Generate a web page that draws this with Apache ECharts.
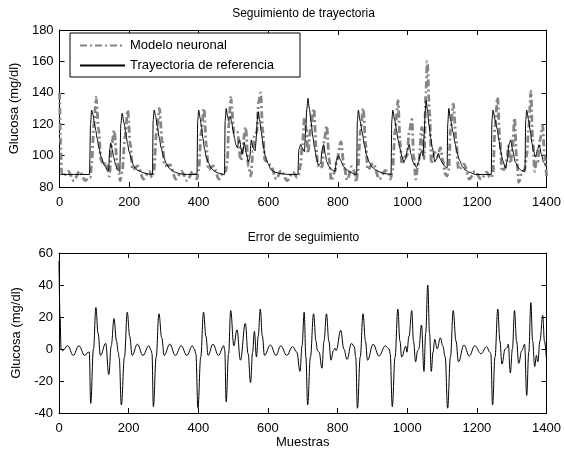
<!DOCTYPE html>
<html>
<head>
<meta charset="utf-8">
<script src="https://cdn.jsdelivr.net/npm/echarts@6/dist/echarts.min.js"></script>
<style>
html,body{margin:0;padding:0;background:#fff;}
#chart{width:564px;height:454px;}
</style>
</head>
<body>
<div id="chart"></div>
<script>
// ---- Data ----
var xTicks = [0, 200, 400, 600, 800, 1000, 1200, 1400];
var topYTicks = [80, 100, 120, 140, 160, 180];
var botYTicks = [-40, -20, 0, 20, 40, 60];

// Reference trajectory (black)
var refS = [0,86,89,92,96,100,104,108,113,120,128,137,141,144,147,151,156,161,166,173,176,180,185,190,195,200,207,214,225,242,255,267,269,272,276,281,286,292,299,307,317,330,345,360,395,397,400,404,408,412,417,422,429,436,445,455,465,474,476,479,483,486,489,491,495,499,503,507,511,515,518,522,525,528,531,536,543,547,551,556,562,566,568,571,575,580,585,591,599,608,618,627,640,660,685,688,693,697,704,707,711,714,718,723,728,733,738,744,751,754,759,764,768,775,782,792,796,802,808,816,825,835,851,854,856,859,864,870,876,883,890,897,908,921,935,953,955,958,963,969,973,978,984,990,995,1000,1005,1010,1016,1026,1032,1037,1041,1045,1048,1051,1054,1058,1062,1067,1072,1079,1084,1089,1094,1100,1108,1114,1116,1119,1124,1131,1137,1142,1150,1158,1168,1177,1196,1241,1243,1246,1252,1258,1263,1267,1274,1282,1287,1292,1297,1303,1310,1320,1329,1338,1340,1343,1348,1353,1358,1363,1369,1374,1379,1385,1391,1400];
var refV = [88,88,120,129,126,121,116,111,105,99,94,91,90.5,104,108,104,98.5,94,91,90,120,127,121,115,108,102.5,97,93,90.5,89,88.3,88,122,129,125,119,112,105,99,95,91.5,89.5,88.5,88,88,122,129,124,118,111,104,98.5,95,92,90,89,88.3,88,122,130,125,122,124,125,121,116,111,107,105,109,110,104,101,104,108.5,102,96,99,110,105,103,112,122,128,123,115,107,100,95,91,89.5,89,88.3,88,88,104,107,105,102.5,115,130,136.5,130,121.6,112,105,99,94,95,103,107,101,96,93,91,90,97,100,97,93,91,89.5,88,88,122,129,122,115,107,100,96,93,91,89.5,88.5,88,122,129,123,116,110,105,99.5,96,98,104,107,101,96,92.5,96,101,103,100,112,128,135,128,119.5,111,104.6,96,98,101.5,98,95.5,93,92,120,130,123,115,108,102.5,97,93,90.5,89.5,88,88,122,129,123,117,110,104,97,92,97,107,110,103,96,92,90.3,90,122,129,123,116,108,102.5,99,104,106.8,101,96,93];

// Neural model output (grey dash-dot)
var modelS = [0,3,6,10,25,41,57,74,84,88,92,99,105,112,119,127,134,143,150,157,165,170,174,180,188,196,203,210,225,241,258,266,271,279,287,295,302,318,334,351,367,383,389,395,400,407,415,422,428,442,458,473,478,482,487,492,502,511,521,535,543,550,556,561,567,572,578,584,590,607,623,637,654,671,683,688,692,698,704,709,714,722,731,738,742,747,755,761,768,775,781,792,796,809,818,827,840,848,852,857,865,873,880,886,902,919,937,948,951,957,965,973,979,984,996,999,1005,1013,1018,1024,1030,1033,1041,1048,1053,1057,1064,1069,1074,1079,1086,1095,1102,1109,1114,1119,1124,1132,1140,1147,1163,1178,1194,1212,1228,1238,1242,1246,1252,1259,1266,1272,1281,1287,1290,1296,1302,1308,1314,1320,1329,1337,1343,1349,1355,1360,1366,1371,1375,1381,1389,1394,1400];
var modelV = [140,108,89,87,90,84,90,84,86,86,94,121,137,117,97,94,95.5,87,107,116,97,89,84,90,112,129,108,91,93.5,85,90,86,90,116,130,109,93.5,94,85,90,84,90,88,85,91,115,130,106.5,91,93.5,85,90,90,96,121,137,114,115,97,118,93,87,103,114,115,134,140,116,97,94,85,90.5,84,89.5,86,88,93,107,124,117,101.5,118,130,104,94,92,93,110,119,98,84,90,96,108.7,92.5,84.5,93,90,83,89,116,130,107,91,95,85,90.5,88,85,90,117,135,109,94.5,100,100,115,123,100,85,93,97,118,98,140,160,127,95,100,102,99.5,105,97,88,87,91,117,133,110,91,94.5,85,90,85,89.5,86,86,89,119,137,110,90,92,98,106,95,104,124,99,83,89,91,100,119,141,111,90,97,96,110,119,100,87];

// Tracking error
var errS = [0,3,6,10,25,41,57,74,84,87,91,99,106,112,119,134,143,150,158,165,170,173,179,188,196,203,210,225,241,258,265,267,271,279,287,295,302,318,334,351,367,383,389,393,399,407,415,422,428,442,458,473,476,480,487,493,502,511,521,535,543,550,556,561,567,572,578,584,590,607,623,637,654,671,683,692,698,704,709,714,722,731,738,742,747,755,761,768,775,781,788,792,796,809,818,827,840,848,852,857,865,873,880,886,902,919,937,948,951,957,965,973,979,984,996,999,1005,1013,1018,1024,1030,1033,1041,1048,1053,1059,1064,1069,1074,1079,1086,1095,1102,1109,1116,1124,1132,1140,1147,1163,1178,1194,1212,1228,1237,1240,1245,1252,1260,1266,1272,1281,1287,1290,1296,1302,1308,1314,1320,1329,1337,1343,1349,1355,1360,1366,1371,1375,1381,1389,1394,1400];
var errV = [55,20,0,-1,2,-4,2,-4,-2,-2,-34,0,26,10,-4,3.5,-16,2,19,5,-2,-6,-35,-5,23,8,-4,3,-4,2,-1,-3,-36,-5,22,7,-4,3,-4,2,-4,2,0,-3,-37,-5,23,8,-4,3,-4,2,-1,-33,-3,24,2,12,-7,16,-3,-21,-2,11,-5,8,25,8,-4,2.5,-4,2,-4,1.5,-2,-14,2,23,-5,-35,-5,22,5,-1,-2,-12,5,22,5,-7,-1,0.5,-1,11.7,0,-6.5,3.5,1.5,-5,-37,-5,22,5,-7,3,-4.4,2,0,-3,-36,-5,25,5,-5,1.7,-2,8,24,5,-8,-1,0,15,-14,10,40,10,-14,-2,6,0,7,2,-5,-37,-5,24,5,-8,2.5,-4.4,2,-3,1.5,-2,-3,-35,-5,25,5,-9.4,0,1,3,-15,0,24,5,-9,-1,3,-29,-2,29,5,-11,-4,-8,5,21,5,-7];

function pairs(s, v) { return s.map(function (x, i) { return [x, v[i]]; }); }

var FONT = "'Liberation Sans', Arial, sans-serif";
var TXT = { color: '#000', fontFamily: FONT, fontSize: 13 };
function plain(v) { return String(v); }

function xAx(gi, pos, labels, name) {
  return {
    type: 'value', gridIndex: gi, position: pos, min: xTicks[0], max: xTicks[xTicks.length - 1],
    interval: xTicks[1] - xTicks[0],
    axisLine: { show: true, onZero: false, lineStyle: { color: '#000', width: 1 } },
    axisTick: { show: true, inside: true, length: 5, lineStyle: { color: '#000' } },
    axisLabel: { show: labels, margin: 9, color: '#000', fontFamily: FONT, fontSize: 13, formatter: plain },
    splitLine: { show: false },
    name: name || '', nameLocation: 'middle', nameGap: 17, nameTextStyle: TXT
  };
}
function yAx(gi, pos, ticks, labels, name) {
  return {
    type: 'value', gridIndex: gi, position: pos, min: ticks[0], max: ticks[ticks.length - 1],
    interval: ticks[1] - ticks[0],
    axisLine: { show: true, onZero: false, lineStyle: { color: '#000', width: 1 } },
    axisTick: { show: true, inside: true, length: 5, lineStyle: { color: '#000' } },
    axisLabel: { show: labels, margin: 6, color: '#000', fontFamily: FONT, fontSize: 13, formatter: plain },
    splitLine: { show: false },
    name: name || '', nameLocation: 'middle', nameGap: 30, nameTextStyle: TXT
  };
}

var chart = echarts.init(document.getElementById('chart'), null, { renderer: 'canvas' });
chart.setOption({
  animation: false,
  backgroundColor: '#fff',
  textStyle: { fontFamily: FONT },
  title: [
    { text: 'Seguimiento de trayectoria', left: 303.5, top: 8, textAlign: 'center', padding: 0,
      textStyle: { color: '#000', fontSize: 12, fontWeight: 'normal', fontFamily: FONT } },
    { text: 'Error de seguimiento', left: 303.5, top: 232, textAlign: 'center', padding: 0,
      textStyle: { color: '#000', fontSize: 12, fontWeight: 'normal', fontFamily: FONT } }
  ],
  legend: {
    left: 70, top: 33, orient: 'vertical',
    padding: [6, 26, 5, 9], itemGap: 7, itemWidth: 45, itemHeight: 14,
    borderColor: '#000', borderWidth: 1, backgroundColor: '#fff',
    itemStyle: { color: 'rgba(0,0,0,0)', borderColor: 'rgba(0,0,0,0)', borderWidth: 0 },
    textStyle: { color: '#000', fontFamily: FONT, fontSize: 13 },
    data: ['Modelo neuronal', 'Trayectoria de referencia']
  },
  grid: [
    { left: 59, width: 489, top: 30, height: 157 },
    { left: 59, width: 489, top: 253, height: 160 }
  ],
  xAxis: [xAx(0, 'bottom', true), xAx(0, 'top', false), xAx(1, 'bottom', true, 'Muestras'), xAx(1, 'top', false)],
  yAxis: [yAx(0, 'left', topYTicks, true, 'Glucosa (mg/dl)'), yAx(0, 'right', topYTicks, false),
          yAx(1, 'left', botYTicks, true, 'Glucosa (mg/dl)'), yAx(1, 'right', botYTicks, false)],
  series: [
    { name: 'Modelo neuronal', type: 'line', xAxisIndex: 0, yAxisIndex: 0, data: pairs(modelS, modelV),
      symbol: 'none', showSymbol: false, smooth: 0.3, smoothMonotone: 'x', z: 2,
      lineStyle: { color: '#858585', width: 2.8, type: [7, 3, 2, 3] }, itemStyle: { color: '#858585' } },
    { name: 'Trayectoria de referencia', type: 'line', xAxisIndex: 0, yAxisIndex: 0, data: pairs(refS, refV),
      symbol: 'none', showSymbol: false, smooth: 0.25, smoothMonotone: 'x', z: 3,
      lineStyle: { color: '#000', width: 1 }, itemStyle: { color: '#000' } },
    { name: 'Error', type: 'line', xAxisIndex: 2, yAxisIndex: 2, data: pairs(errS, errV),
      symbol: 'none', showSymbol: false, smooth: 0.4, smoothMonotone: 'x', z: 3,
      lineStyle: { color: '#000', width: 1 }, itemStyle: { color: '#000' } }
  ]
});
</script>
</body>
</html>
